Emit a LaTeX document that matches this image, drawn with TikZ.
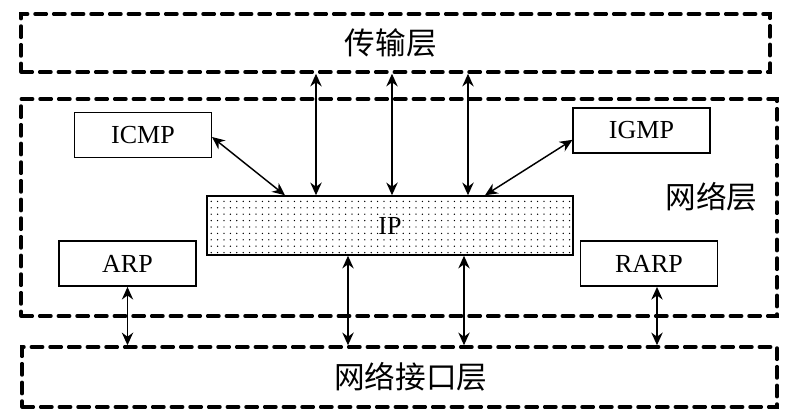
\documentclass[tikz,border=0pt]{standalone}
\usepackage{fontspec}
\setmainfont{Liberation Serif}
\newfontfamily\cjk{Noto Sans CJK SC}
\usetikzlibrary{positioning, calc, arrows.meta, patterns.meta}

\begin{document}
\begin{tikzpicture}[
			x=0.75pt, y=-0.75pt,
			font=\fontsize{19.5}{22}\selectfont,
			cjklabel/.style={font=\fontsize{23}{26}\selectfont\cjk},
			layer/.style={draw, rectangle, line width=2.6pt, dash pattern=on 8.5pt off 5.5pt, line cap=round, inner sep=0pt},
			proto/.style={draw, rectangle, line width=1.1pt, minimum width=102.5pt, minimum height=34pt, inner sep=0pt},
			arr/.style={{Stealth[length=9.5pt,width=8.5pt]}-{Stealth[length=9.5pt,width=8.5pt]}, line width=1.1pt},
		]
			\useasboundingbox (0,0) rectangle (794,419);
			\node[layer, minimum width=561.75pt, minimum height=43.5pt] (trans) at (395.5,43) {};
			\node[layer, minimum width=567pt, minimum height=162.75pt] (net) at (399,207.5) {};
			\node[layer, minimum width=566.25pt, minimum height=45pt] (iface) at (399.5,377) {};
			\node[cjklabel] (transtext) at ([xshift=-3.4pt]trans.center) {传输层};
			\node[cjklabel] (ifacetext) at ([xshift=8.6pt]iface.center) {网络接口层};
			\node[cjklabel] (netlabel) at (711.5,197) {网络层};
			\node[draw, line width=1.1pt, minimum width=274.5pt, minimum height=44.25pt,
				pattern={Dots[distance=4.8pt, radius=0.55pt]}] (ip) at (390,225.5) {};
			\node (iptext) at (ip.center) {IP};
			\node[proto] (icmp) at (143,135) {ICMP};
			\node[proto] (igmp) at (641.5,130.5) {IGMP};
			\node[proto] (arp) at (127.5,263.5) {ARP};
			\node[proto] (rarp) at (649,263.5) {RARP};
			% transport <-> IP
			\draw[arr] ([xshift=-55.5pt]ip.north |- trans.south) -- ([xshift=-55.5pt]ip.north);
			\draw[arr] ([xshift=1.5pt]ip.north |- trans.south) -- ([xshift=1.5pt]ip.north);
			\draw[arr] ([xshift=58.5pt]ip.north |- trans.south) -- ([xshift=58.5pt]ip.north);
			% ICMP, IGMP <-> IP
			\draw[arr] ([yshift=-1.5pt]icmp.east) -- ([xshift=-78.75pt]ip.north);
			\draw[arr] ([yshift=-7pt]igmp.west) -- ([xshift=71.25pt]ip.north);
			% IP, ARP, RARP <-> interface
			\draw[arr] ([xshift=-31.5pt]ip.south) -- ([xshift=-31.5pt]ip.south |- iface.north);
			\draw[arr] ([xshift=55.5pt]ip.south) -- ([xshift=55.5pt]ip.south |- iface.north);
			\draw[arr] (arp.south) -- (arp.south |- iface.north);
			\draw[arr] ([xshift=6pt]rarp.south) -- ([xshift=6pt]rarp.south |- iface.north);
		\end{tikzpicture}
\end{document}
